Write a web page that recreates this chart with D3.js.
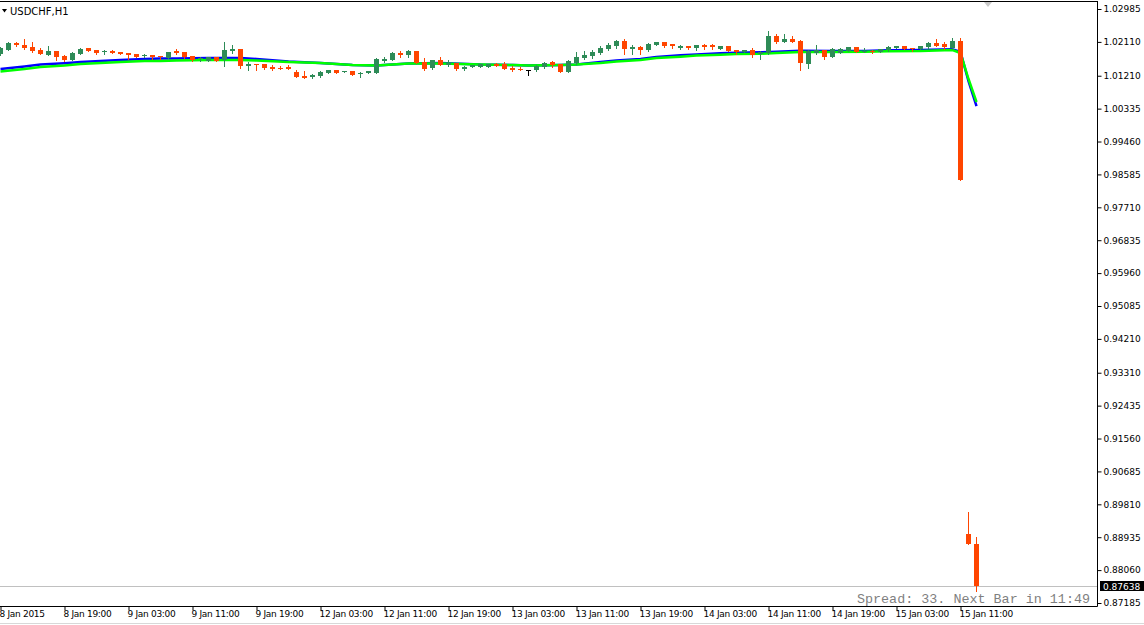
<!DOCTYPE html>
<html>
<head>
<meta charset="utf-8">
<script src="https://cdn.jsdelivr.net/npm/d3@7"></script>
<style>
html, body { margin: 0; padding: 0; background: #fff; overflow: hidden; }
svg { display: block; }
</style>
</head>
<body>
<div id="chart"></div>
<script>
// chart title and status text
const symbolTitle = "USDCHF,H1";
const infoText = "Spread: 33. Next Bar in 11:49";
const bidPrice = 0.87638;

// time axis labels, one every 8 hourly bars starting at bar 0
const timeLabels = ["8 Jan 2015", "8 Jan 19:00", "9 Jan 03:00", "9 Jan 11:00", "9 Jan 19:00",
  "12 Jan 03:00", "12 Jan 11:00", "12 Jan 19:00", "13 Jan 03:00", "13 Jan 11:00",
  "13 Jan 19:00", "14 Jan 03:00", "14 Jan 11:00", "14 Jan 19:00", "15 Jan 03:00", "15 Jan 11:00"];

// price axis labels
const priceTicks = [1.02985, 1.02110, 1.01210, 1.00335, 0.99460, 0.98585, 0.97710, 0.96835,
  0.95960, 0.95085, 0.94210, 0.93310, 0.92435, 0.91560, 0.90685, 0.89810, 0.88935, 0.88060, 0.87185];

// hourly candles (bar 0 = 8 Jan 11:00)
const openP = [
  1.01788, 1.01894, 1.02080, 1.02027, 1.01974, 1.01894, 1.01761, 1.01867, 1.01734, 1.01628,
  1.01788, 1.01947, 1.01894, 1.01828, 1.01867, 1.01841, 1.01814, 1.01788, 1.01734, 1.01761,
  1.01734, 1.01681, 1.01867, 1.01841, 1.01734, 1.01655, 1.01601, 1.01708, 1.01628, 1.01881,
  1.01921, 1.01482, 1.01522, 1.01522, 1.01442, 1.01428, 1.01442, 1.01309, 1.01202, 1.01189,
  1.01202, 1.01282, 1.01362, 1.01309, 1.01335, 1.01256, 1.01282, 1.01282, 1.01615, 1.01628,
  1.01814, 1.01761, 1.01867, 1.01575, 1.01415, 1.01628, 1.01495, 1.01548, 1.01389, 1.01442,
  1.01442, 1.01442, 1.01522, 1.01522, 1.01415, 1.01389, 1.01375, 1.01362, 1.01442, 1.01575,
  1.01522, 1.01309, 1.01548, 1.01681, 1.01734, 1.01814, 1.01921, 1.02000, 1.02133, 1.01934,
  1.01974, 1.01894, 1.02027, 1.02107, 1.02054, 1.01955, 1.01992, 1.01947, 1.02027, 1.02027,
  1.01921, 1.02000, 1.01894, 1.01828, 1.01894, 1.01788, 1.01814, 1.02266, 1.02107, 1.02187,
  1.02133, 1.01522, 1.01814, 1.01894, 1.01708, 1.01814, 1.01867, 1.01974, 1.01841, 1.01867,
  1.01841, 1.01894, 1.01947, 1.02000, 1.01947, 1.01921, 1.01974, 1.02080, 1.02054, 1.01947,
  1.02133, 0.89020, 0.88754];
const highP = [
  1.01974, 1.02107, 1.02107, 1.02187, 1.02107, 1.01947, 1.02000, 1.01867, 1.01761, 1.01841,
  1.01947, 1.01947, 1.01894, 1.01894, 1.01894, 1.01841, 1.01814, 1.01788, 1.01801, 1.01761,
  1.01734, 1.01841, 1.01921, 1.01841, 1.01734, 1.01708, 1.01708, 1.01708, 1.02107, 1.02027,
  1.01921, 1.01575, 1.01522, 1.01522, 1.01495, 1.01468, 1.01495, 1.01362, 1.01335, 1.01256,
  1.01349, 1.01362, 1.01362, 1.01349, 1.01335, 1.01322, 1.01335, 1.01681, 1.01708, 1.01841,
  1.01867, 1.01894, 1.01867, 1.01681, 1.01628, 1.01708, 1.01628, 1.01548, 1.01482, 1.01495,
  1.01522, 1.01522, 1.01561, 1.01575, 1.01468, 1.01442, 1.01375, 1.01508, 1.01575, 1.01601,
  1.01522, 1.01628, 1.01841, 1.01867, 1.01894, 1.02000, 1.02080, 1.02160, 1.02187, 1.02027,
  1.02000, 1.02080, 1.02107, 1.02107, 1.02054, 1.02027, 1.02008, 1.02027, 1.02067, 1.02067,
  1.02000, 1.02000, 1.01894, 1.01894, 1.01947, 1.01881, 1.02399, 1.02320, 1.02320, 1.02266,
  1.02160, 1.01894, 1.02027, 1.01894, 1.01947, 1.01947, 1.01974, 1.01974, 1.01947, 1.01907,
  1.01921, 1.02000, 1.02000, 1.02000, 1.01947, 1.02000, 1.02094, 1.02187, 1.02107, 1.02213,
  1.02213, 0.89605, 0.88940];
const lowP = [
  1.01761, 1.01894, 1.02000, 1.01921, 1.01841, 1.01788, 1.01761, 1.01628, 1.01601, 1.01628,
  1.01788, 1.01867, 1.01788, 1.01801, 1.01814, 1.01788, 1.01655, 1.01708, 1.01708, 1.01655,
  1.01655, 1.01681, 1.01788, 1.01681, 1.01601, 1.01601, 1.01601, 1.01601, 1.01468, 1.01814,
  1.01415, 1.01362, 1.01362, 1.01389, 1.01362, 1.01389, 1.01389, 1.01176, 1.01149, 1.01162,
  1.01176, 1.01282, 1.01282, 1.01309, 1.01229, 1.01176, 1.01282, 1.01282, 1.01575, 1.01628,
  1.01708, 1.01721, 1.01548, 1.01362, 1.01389, 1.01495, 1.01482, 1.01362, 1.01362, 1.01442,
  1.01442, 1.01442, 1.01468, 1.01389, 1.01335, 1.01362, 1.01229, 1.01335, 1.01415, 1.01442,
  1.01309, 1.01309, 1.01522, 1.01655, 1.01681, 1.01788, 1.01894, 1.01947, 1.01788, 1.01788,
  1.01788, 1.01867, 1.02027, 1.01974, 1.01947, 1.01921, 1.01921, 1.01907, 1.01934, 1.01934,
  1.01921, 1.01867, 1.01788, 1.01828, 1.01708, 1.01655, 1.01788, 1.02080, 1.02107, 1.02107,
  1.01362, 1.01415, 1.01788, 1.01655, 1.01708, 1.01814, 1.01867, 1.01841, 1.01828, 1.01814,
  1.01841, 1.01867, 1.01947, 1.01921, 1.01867, 1.01921, 1.01947, 1.02000, 1.01921, 1.01921,
  0.98436, 0.88754, 0.87503];
const closeP = [
  1.01947, 1.02088, 1.02027, 1.01947, 1.01867, 1.01788, 1.01867, 1.01708, 1.01628, 1.01814,
  1.01921, 1.01867, 1.01814, 1.01867, 1.01814, 1.01801, 1.01774, 1.01708, 1.01774, 1.01708,
  1.01695, 1.01841, 1.01814, 1.01708, 1.01628, 1.01681, 1.01708, 1.01601, 1.01894, 1.01921,
  1.01468, 1.01522, 1.01495, 1.01415, 1.01389, 1.01402, 1.01389, 1.01176, 1.01149, 1.01229,
  1.01309, 1.01362, 1.01282, 1.01349, 1.01229, 1.01295, 1.01335, 1.01655, 1.01655, 1.01814,
  1.01761, 1.01867, 1.01548, 1.01389, 1.01628, 1.01495, 1.01548, 1.01389, 1.01442, 1.01495,
  1.01522, 1.01522, 1.01468, 1.01389, 1.01362, 1.01362, 1.01375, 1.01468, 1.01548, 1.01495,
  1.01309, 1.01601, 1.01708, 1.01761, 1.01841, 1.01947, 1.02027, 1.02133, 1.01921, 1.01974,
  1.01894, 1.02054, 1.02107, 1.02000, 1.02000, 1.01992, 1.01947, 1.02027, 1.01974, 1.01974,
  1.02000, 1.01867, 1.01841, 1.01894, 1.01761, 1.01841, 1.02266, 1.02107, 1.02187, 1.02107,
  1.01548, 1.01867, 1.01894, 1.01708, 1.01921, 1.01921, 1.01974, 1.01841, 1.01867, 1.01841,
  1.01921, 1.01974, 1.02000, 1.01921, 1.01921, 1.02000, 1.02080, 1.02000, 1.01974, 1.02133,
  0.98436, 0.88754, 0.87638];

// moving averages read at these bars
const maBars = [0, 3, 5, 8, 10, 15, 18, 20, 22, 26, 30, 32, 36, 40, 44, 47, 49, 51, 55, 60, 64,
  66, 70, 72, 75, 77, 80, 82, 85, 87, 90, 92, 95, 97, 100, 104, 108, 111, 115, 119, 120, 121, 122];
const maBlue = [1.01389, 1.01455, 1.01508, 1.01543, 1.01575, 1.01628, 1.01655, 1.01668, 1.01668,
  1.01681, 1.01681, 1.01655, 1.01588, 1.01548, 1.01495, 1.01482, 1.01508, 1.01535, 1.01548,
  1.01508, 1.01495, 1.01482, 1.01495, 1.01508, 1.01575, 1.01615, 1.01655, 1.01708, 1.01753,
  1.01774, 1.01806, 1.01822, 1.01833, 1.01846, 1.01875, 1.01867, 1.01867, 1.01886, 1.01894,
  1.01913, 1.01841, 1.01069, 1.00404];
const maGreen = [1.01322, 1.01389, 1.01442, 1.01482, 1.01522, 1.01575, 1.01601, 1.01601, 1.01615,
  1.01628, 1.01628, 1.01615, 1.01575, 1.01548, 1.01495, 1.01482, 1.01508, 1.01535, 1.01535,
  1.01508, 1.01495, 1.01482, 1.01495, 1.01508, 1.01548, 1.01588, 1.01628, 1.01681, 1.01716,
  1.01748, 1.01769, 1.01788, 1.01796, 1.01814, 1.01841, 1.01841, 1.01849, 1.01859, 1.01867,
  1.01894, 1.01814, 1.01123, 1.00511];

const W = 1144, H = 625;
const axisX = 1097.5, axisY = 606.5;
const upColor = "#2e8b57", downColor = "#ff4500";

const svg = d3.select("#chart").append("svg").attr("width", W).attr("height", H);

const x = d3.scaleLinear().domain([0, 122]).range([0.5, 976.5]);
const y = d3.scaleLinear().domain([0.87185, 1.02985]).range([603, 9]);

const candles = openP.map((o, i) => ({ i: i, o: o, h: highP[i], l: lowP[i], c: closeP[i] }));

//bid line
svg.append("line")
  .attr("x1", 0).attr("x2", axisX)
  .attr("y1", Math.round(y(bidPrice)) + 0.5).attr("y2", Math.round(y(bidPrice)) + 0.5)
  .attr("stroke", "#c0c0c0");

//moving averages
const maLine = d3.line().x(d => x(d[0])).y(d => y(d[1]));
svg.append("path")
  .attr("d", maLine(maBars.map((b, k) => [b, maBlue[k]])))
  .attr("fill", "none").attr("stroke", "#0000ff").attr("stroke-width", 2.5);
svg.append("path")
  .attr("d", maLine(maBars.map((b, k) => [b, maGreen[k]])))
  .attr("fill", "none").attr("stroke", "#00ff00").attr("stroke-width", 2.5);

//candles
function candleColor(d) {
  if (d.c > d.o) return upColor;
  if (d.c < d.o) return downColor;
  return "#000";
}
const cg = svg.append("g");
cg.selectAll("line.wick").data(candles).enter().append("line")
  .attr("class", "wick")
  .attr("x1", d => x(d.i)).attr("x2", d => x(d.i))
  .attr("y1", d => Math.round(y(d.h))).attr("y2", d => Math.round(y(d.l)) + 1)
  .attr("stroke", candleColor).attr("stroke-width", 1);
cg.selectAll("rect.body").data(candles).enter().append("rect")
  .attr("class", "body")
  .attr("x", d => x(d.i) - 2.5)
  .attr("width", 5)
  .attr("y", d => Math.round(y(Math.max(d.o, d.c))))
  .attr("height", d => Math.max(1, Math.round(y(Math.min(d.o, d.c))) - Math.round(y(Math.max(d.o, d.c)))))
  .attr("fill", candleColor);

//frame
svg.append("line").attr("x1", 0).attr("x2", axisX).attr("y1", 1.5).attr("y2", 1.5).attr("stroke", "#000");
svg.append("line").attr("x1", axisX).attr("x2", axisX).attr("y1", 1).attr("y2", axisY).attr("stroke", "#000");
svg.append("line").attr("x1", 0).attr("x2", axisX).attr("y1", axisY).attr("y2", axisY).attr("stroke", "#000");
svg.append("line").attr("x1", 0).attr("x2", W).attr("y1", 623.5).attr("y2", 623.5).attr("stroke", "#d8d8d8");

//price axis
const yAxis = svg.append("g")
  .attr("transform", `translate(${axisX},0)`)
  .call(d3.axisRight(y).tickValues(priceTicks).tickFormat(d3.format(".5f")).tickSize(4).tickPadding(2));
yAxis.select(".domain").remove();
yAxis.selectAll("text").attr("font-family", "DejaVu Sans").attr("font-size", 9).attr("fill", "#000");

//time axis
const tickBars = timeLabels.map((t, k) => k * 8);
const xAxis = svg.append("g")
  .attr("transform", `translate(0,${axisY})`)
  .call(d3.axisBottom(x).tickValues(tickBars).tickFormat((d, k) => timeLabels[k]).tickSize(4));
xAxis.select(".domain").remove();
xAxis.selectAll("text")
  .attr("text-anchor", "start").attr("x", -1.5).attr("y", 4).attr("dy", "0.71em")
  .attr("font-family", "DejaVu Sans").attr("font-size", 9)
  .attr("letter-spacing", "-0.3px").attr("fill", "#000");

//bid price label
const by = Math.round(y(bidPrice));
svg.append("rect").attr("x", 1100).attr("y", by - 5).attr("width", 44).attr("height", 10).attr("fill", "#000");
svg.append("text").attr("x", 1103).attr("y", by + 0.5).attr("dy", "0.35em")
  .attr("font-family", "DejaVu Sans").attr("font-size", 9).attr("fill", "#fff").text(d3.format(".5f")(bidPrice));

//title
svg.append("path").attr("d", "M2,9L7,9L4.5,12.5Z").attr("fill", "#000");
svg.append("text").attr("x", 10).attr("y", 14.5)
  .attr("font-family", "DejaVu Sans").attr("font-size", 10).attr("fill", "#000").text(symbolTitle);

//chart shift marker
svg.append("path").attr("d", "M984,2L992,2L988,7Z").attr("fill", "#c8c8c8");

//spread info
svg.append("text").attr("x", 1090).attr("y", 603)
  .attr("text-anchor", "end")
  .attr("font-family", "Liberation Mono").attr("font-size", 13.4).attr("fill", "#7f7f7f")
  .text(infoText);
</script>
</body>
</html>
